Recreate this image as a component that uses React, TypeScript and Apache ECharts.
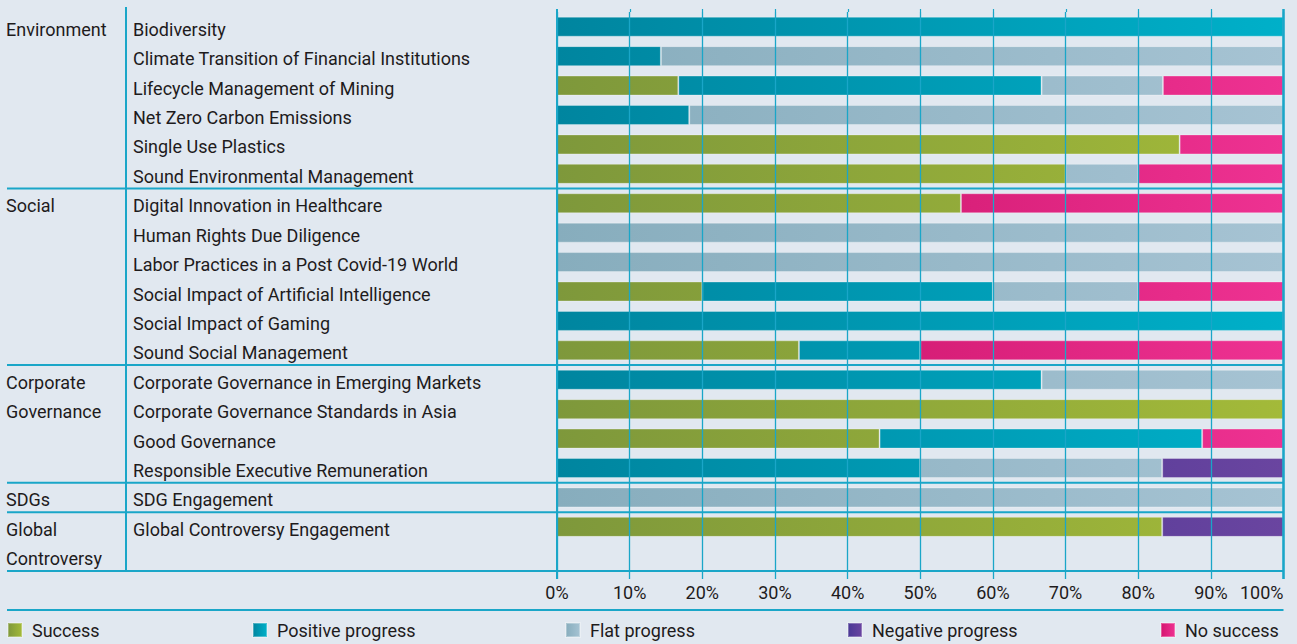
import React, { useEffect, useRef } from "react";
import * as echarts from "echarts";

const categories = [
  "Biodiversity",
  "Climate Transition of Financial Institutions",
  "Lifecycle Management of Mining",
  "Net Zero Carbon Emissions",
  "Single Use Plastics",
  "Sound Environmental Management",
  "Digital Innovation in Healthcare",
  "Human Rights Due Diligence",
  "Labor Practices in a Post Covid-19 World",
  "Social Impact of Artificial Intelligence",
  "Social Impact of Gaming",
  "Sound Social Management",
  "Corporate Governance in Emerging Markets",
  "Corporate Governance Standards in Asia",
  "Good Governance",
  "Responsible Executive Remuneration",
  "SDG Engagement",
  "Global Controversy Engagement",
  "",
];

const groupLabels = [
  "Environment", "", "", "", "", "",
  "Social", "", "", "", "", "",
  "Corporate", "Governance", "", "",
  "SDGs",
  "Global", "Controversy",
];

// rows after which a group separator is drawn (boundary index)
const groupBoundaries = [6, 12, 16, 17, 19];

const seriesNames = ["Success", "Positive progress", "Flat progress", "Negative progress", "No success"];

const success = [0, 0, 16.7, 0, 85.7, 70, 55.6, 0, 0, 20, 0, 33.3, 0, 100, 44.4, 0, 0, 83.3, 0];
const positive = [100, 14.3, 50, 18.2, 0, 0, 0, 0, 0, 40, 100, 16.7, 66.7, 0, 44.4, 50, 0, 0, 0];
const flat = [0, 85.7, 16.7, 81.8, 0, 10, 0, 100, 100, 20, 0, 0, 33.3, 0, 0, 33.3, 100, 0, 0];
const negative = [0, 0, 0, 0, 0, 0, 0, 0, 0, 0, 0, 0, 0, 0, 0, 16.7, 0, 16.7, 0];
const noSuccess = [0, 0, 16.6, 0, 14.3, 20, 44.4, 0, 0, 20, 0, 50, 0, 0, 11.2, 0, 0, 0, 0];

const xTicks = [0, 10, 20, 30, 40, 50, 60, 70, 80, 90, 100];

const W = 1297;
const H = 644;
const gridLeft = 557;
const gridRightX = 1283.5;
const gridTop = 12;
const gridBottomY = 571;
const lineColor = "#1aa6c8";
const textColor = "#1e1b1c";
const font = "Roboto";

const gradStops: string[][] = [
  ["#7e983b", "#a3ba39"],
  ["#00859f", "#00b0c9"],
  ["#87adbd", "#a6c3d3"],
  ["#33298a", "#6a45a0"],
  ["#bf0a5c", "#ee3292"],
];
const legendX = [7, 252, 565, 847, 1160];

export default function App() {
  const ref = useRef<HTMLDivElement>(null);
  useEffect(() => {
    if (!ref.current) return;
    const chart = echarts.init(ref.current, null, { renderer: "svg" });
    const seriesData = [success, positive, flat, negative, noSuccess];
    const rowH = (gridBottomY - gridTop) / categories.length;

    const globalGrad = (i: number) =>
      new echarts.graphic.LinearGradient(
        gridLeft, 0, gridRightX, 0,
        [
          { offset: 0, color: gradStops[i][0] },
          { offset: 1, color: gradStops[i][1] },
        ],
        true
      );
    const localGrad = (i: number) => {
      const s = gradStops[i];
      return new echarts.graphic.LinearGradient(0, 0, 1, 0, [
        { offset: 0, color: i === 3 ? "#4a3996" : i === 4 ? "#d5146f" : s[0] },
        { offset: 1, color: s[1] },
      ]);
    };

    const lineStyle = { stroke: lineColor, lineWidth: 2 };
    const graphics: any[] = [];
    graphics.push({ type: "line", z: 100, shape: { x1: 126, y1: 7, x2: 126, y2: gridBottomY }, style: lineStyle });
    groupBoundaries.forEach((b) => {
      const y = gridTop + b * rowH;
      graphics.push({ type: "line", z: 100, shape: { x1: 7, y1: y, x2: gridRightX, y2: y }, style: lineStyle });
    });
    graphics.push({ type: "line", z: 100, shape: { x1: 7, y1: 610, x2: gridRightX, y2: 610 }, style: lineStyle });
    graphics.push({ type: "line", z: 100, shape: { x1: gridLeft, y1: 9, x2: gridLeft, y2: 579 }, style: { stroke: lineColor, lineWidth: 2 } });
    graphics.push({ type: "line", z: 100, shape: { x1: gridRightX, y1: 9, x2: gridRightX, y2: 579 }, style: { stroke: lineColor, lineWidth: 2.5 } });
    xTicks.slice(1, -1).forEach((t) => {
      const x = gridLeft + ((gridRightX - gridLeft) * t) / 100;
      graphics.push({ type: "line", z: 100, shape: { x1: Math.round(x) + 0.5, y1: 9, x2: Math.round(x) + 0.5, y2: gridTop }, style: { stroke: lineColor, lineWidth: 1.2 } });
    });

    const labelRich = {
      t: { fontSize: 18, color: textColor, fontFamily: font, padding: [5, 0, 0, 0] },
    };
    const labelFmt = (v: string) => (v ? `{t|${v}}` : "");

    chart.setOption({
      animation: false,
      backgroundColor: "#e1e8f0",
      textStyle: { fontFamily: font },
      grid: {
        left: gridLeft,
        right: W - gridRightX,
        top: gridTop,
        bottom: H - gridBottomY,
        containLabel: false,
      },
      xAxis: {
        type: "value",
        min: 0,
        max: 100,
        interval: 10,
        z: 5,
        axisLine: { show: false },
        axisTick: { show: true, length: 8, lineStyle: { color: lineColor, width: 1.3 } },
        splitLine: { show: true, lineStyle: { color: lineColor, width: 1.3 } },
        axisLabel: {
          formatter: (v: number) => (xTicks.includes(v) ? `${v}%` : ""),
          margin: 12,
          fontSize: 18,
          color: textColor,
          fontFamily: font,
          alignMaxLabel: "right",
        },
      },
      yAxis: [
        {
          type: "category",
          data: categories,
          inverse: true,
          axisLine: { show: false },
          axisTick: { show: false },
          splitLine: { show: false },
          axisLabel: {
            align: "left",
            margin: gridLeft - 133,
            formatter: labelFmt,
            rich: labelRich,
          },
        },
        {
          type: "category",
          data: groupLabels,
          inverse: true,
          position: "left",
          axisLine: { show: false },
          axisTick: { show: false },
          splitLine: { show: false },
          axisLabel: {
            align: "left",
            margin: gridLeft - 6,
            interval: 0,
            formatter: labelFmt,
            rich: labelRich,
          },
        },
      ],
      legend: seriesNames.map((n, i) => ({
        data: [{ name: n, itemStyle: { color: localGrad(i) } }],
        left: legendX[i],
        top: 621,
        padding: 0,
        itemWidth: 14,
        itemHeight: 14,
        icon: "rect",
        selectedMode: false,
        textStyle: { fontSize: 18, color: textColor, fontFamily: font, padding: [0, 0, 2, 5] },
      })),
      series: seriesNames.map((n, i) => ({
        name: n,
        type: "bar",
        stack: "total",
        barWidth: 20,
        yAxisIndex: 0,
        itemStyle: {
          color: globalGrad(i),
          borderColor: "rgba(255,255,255,0.3)",
          borderWidth: 1,
        },
        data: seriesData[i].map((v) => (v === 0 ? "-" : v)),
      })),
      graphic: graphics,
    });
    return () => chart.dispose();
  }, []);
  return (
    <div
      ref={ref}
      style={{ position: "fixed", left: 0, top: 0, width: W, height: H, background: "#e1e8f0" }}
    />
  );
}
